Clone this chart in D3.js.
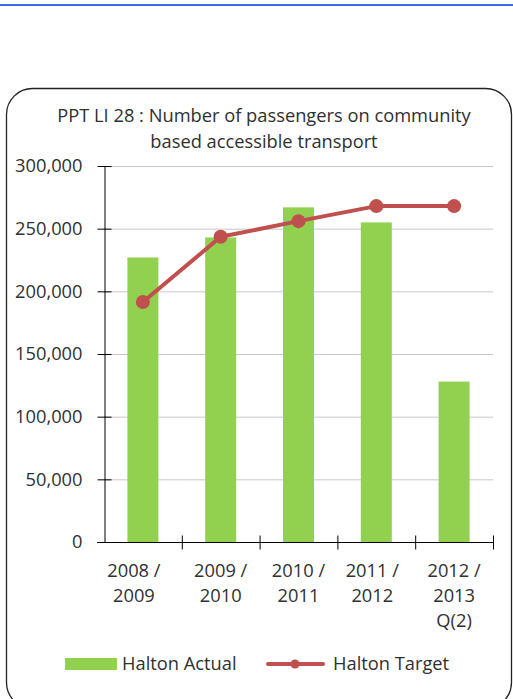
<!DOCTYPE html>
<html><head><meta charset="utf-8">
<script src="https://cdn.jsdelivr.net/npm/d3@7"></script>
<style>html,body{margin:0;padding:0;background:#fff;}svg{display:block;}</style>
</head><body>
<svg id="chart" width="513" height="699"></svg>
<script>
const categories = [["2008 /","2009"],["2009 /","2010"],["2010 /","2011"],["2011 /","2012"],["2012 /","2013","Q(2)"]];
const catKeys = ["2008/2009","2009/2010","2010/2011","2011/2012","2012/2013 Q(2)"];
const actual = [227000, 243000, 267000, 255000, 128000];
const target = [191500, 243500, 256000, 268000, 268000];
const yTicks = [0, 50000, 100000, 150000, 200000, 250000, 300000];
const titleLines = ["PPT LI 28 : Number of passengers on community", "based accessible transport"];
const seriesNames = ["Halton Actual", "Halton Target"];

const FONT = "'Open Sans', Lato, sans-serif";
const FS = 18.3;
const svg = d3.select("#chart");

// top blue rule
svg.append("rect").attr("x",0).attr("y",4).attr("width",513).attr("height",2).attr("fill","#3a6ee8");

// rounded frame
svg.append("rect").attr("x",6.5).attr("y",88.5).attr("width",505).attr("height",620)
  .attr("rx",26).attr("fill","#fff").attr("stroke","#222").attr("stroke-width",1.3);

const pL = 104, pR = 493, pT = 166, pB = 542;
const x = d3.scaleBand().domain(catKeys).range([pL, pR]).paddingInner(0).paddingOuter(0);
const y = d3.scaleLinear().domain([0, 300000]).range([pB, pT]);

// gridlines
svg.append("g").selectAll("line").data(yTicks.filter(d=>d>0)).join("line")
  .attr("x1",pL).attr("x2",pR).attr("y1",d=>y(d)+0.5).attr("y2",d=>y(d)+0.5)
  .attr("stroke","#c8c8c8").attr("stroke-width",1);

// bars
const bw = 31;
svg.append("g").selectAll("rect").data(actual).join("rect")
  .attr("x",(d,i)=>x(catKeys[i])+x.bandwidth()/2-bw/2)
  .attr("width",bw)
  .attr("y",d=>y(d)).attr("height",d=>pB-y(d))
  .attr("fill","#92d050");

// y axis
const yAxis = d3.axisLeft(y).tickValues(yTicks).tickFormat(d3.format(",")).tickSizeInner(7).tickSizeOuter(0).tickPadding(15);
const ya = svg.append("g").attr("transform",`translate(${pL+0.5},0)`).call(yAxis);
ya.select(".domain").attr("stroke","#000");
ya.selectAll(".tick line").attr("x2",7).attr("x1",-7).attr("stroke","#000");
ya.selectAll("text").attr("font-family",FONT).attr("font-size",FS).attr("fill","#303030");

// x axis
const xa = svg.append("g").attr("transform",`translate(0,${pB+0.5})`);
xa.append("line").attr("x1",pL-7).attr("x2",pR).attr("stroke","#000");
const tickXs = catKeys.map(k=>x(k)).concat([pR]);
xa.selectAll("line.t").data(tickXs.slice(1)).join("line").attr("class","t")
  .attr("x1",d=>d+0.5).attr("x2",d=>d+0.5).attr("y1",-7).attr("y2",7).attr("stroke","#000");
const xl = xa.selectAll("text").data(categories).join("text")
  .attr("font-family",FONT).attr("font-size",FS).attr("fill","#303030").attr("text-anchor","middle");
xl.each(function(lines,i){
  const t = d3.select(this);
  lines.forEach((s,j)=>t.append("tspan").attr("x",x(catKeys[i])+x.bandwidth()/2 - (i===0?9:0) - (i===3?4:0)).attr("y",34+j*25).text(s));
});

// line
const line = d3.line().x((d,i)=>x(catKeys[i])+x.bandwidth()/2).y(d=>y(d));
svg.append("path").datum(target).attr("d",line).attr("fill","none").attr("stroke","#c0504d").attr("stroke-width",4).attr("stroke-linejoin","round");
svg.append("g").selectAll("circle").data(target).join("circle")
  .attr("cx",(d,i)=>x(catKeys[i])+x.bandwidth()/2).attr("cy",d=>y(d)).attr("r",7).attr("fill","#c0504d");

// title
svg.append("g").selectAll("text").data(titleLines).join("text")
  .attr("x",264).attr("y",(d,i)=>122+i*26).attr("text-anchor","middle")
  .attr("font-family",FONT).attr("font-size",FS).attr("fill","#303030").text(d=>d);

// legend
const lg = svg.append("g");
lg.append("rect").attr("x",65).attr("y",658).attr("width",52).attr("height",12).attr("fill","#92d050");
lg.append("text").attr("x",122).attr("y",670).attr("font-family",FONT).attr("font-size",FS).attr("fill","#303030").text(seriesNames[0]);
lg.append("line").attr("x1",268).attr("x2",323).attr("y1",664).attr("y2",664).attr("stroke","#c0504d").attr("stroke-width",4).attr("stroke-linecap","round");
lg.append("circle").attr("cx",295).attr("cy",664).attr("r",4.5).attr("fill","#c0504d");
lg.append("text").attr("x",333).attr("y",670).attr("font-family",FONT).attr("font-size",FS).attr("fill","#303030").text(seriesNames[1]);
</script>
</body></html>
